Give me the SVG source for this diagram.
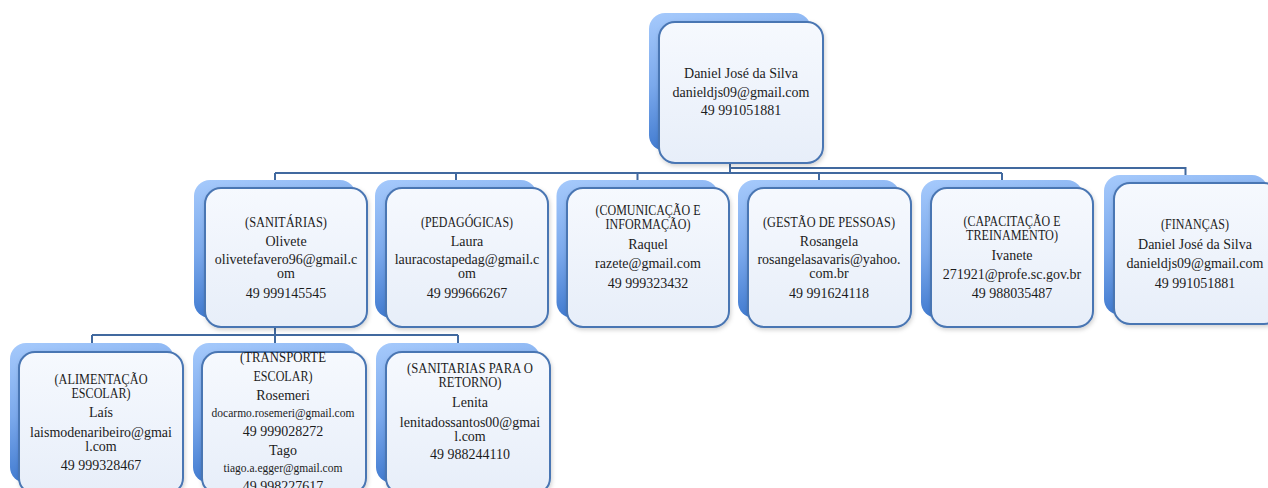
<svg xmlns="http://www.w3.org/2000/svg" width="1268" height="488" viewBox="0 0 1268 488">
<defs>
<linearGradient id="gBack" x1="0" y1="0" x2="0.25" y2="1">
<stop offset="0" stop-color="#a6cafc"/>
<stop offset="0.5" stop-color="#7ba9ec"/>
<stop offset="1" stop-color="#3b76cd"/>
</linearGradient>
<linearGradient id="gFront" x1="0" y1="0" x2="0" y2="1">
<stop offset="0" stop-color="#f6f9fe"/>
<stop offset="1" stop-color="#e7eef9"/>
</linearGradient>
<filter id="sh" x="-10%" y="-10%" width="125%" height="125%">
<feDropShadow dx="1" dy="2" stdDeviation="2" flood-color="#000" flood-opacity="0.18"/>
</filter>
</defs>
<style>
.back{fill:url(#gBack);}
.front{fill:url(#gFront);stroke:#4a76b3;stroke-width:2;filter:url(#sh);}
.conn{fill:none;stroke:#41699f;stroke-width:2;}
text{font-family:"Liberation Serif","DejaVu Serif",serif;font-size:14px;fill:#1c1c1c;text-anchor:middle;}
.sm{font-size:11.5px;}
</style>
<rect width="1268" height="488" fill="#ffffff"/>

<g id="connectors">
<path class="conn" d="M730,150 V173 M275,173 H1002 M275,173 V180 M456,173 V180 M637.5,173 V180 M819,173 V180 M1002,173 V180 M730,168 H1185.5 V175"/>
<path class="conn" d="M275,316 V335 M92,335 H458 M92,335 V343 M458,335 V343 M275,335 V343"/>
</g>

<g id="root">
<rect class="back" x="649" y="13" width="162" height="138" rx="16"/>
<rect class="front" x="659" y="22" width="164" height="141" rx="16"/>
<text x="741" y="78">Daniel José da Silva</text>
<text x="741" y="96.5">danieldjs09@gmail.com</text>
<text x="741" y="115">49 991051881</text>
</g>

<g id="sanitarias">
<rect class="back" x="194" y="180" width="162" height="138" rx="16"/>
<rect class="front" x="205" y="188" width="162" height="139" rx="16"/>
<text x="286" y="227" textLength="82" lengthAdjust="spacingAndGlyphs">(SANITÁRIAS)</text>
<text x="286" y="245.5">Olivete</text>
<text x="286" y="264">olivetefavero96@gmail.c</text>
<text x="286" y="278">om</text>
<text x="286" y="297.5">49 999145545</text>
</g>

<g id="pedagogicas">
<rect class="back" x="375" y="180" width="162" height="138" rx="16"/>
<rect class="front" x="386" y="188" width="162" height="139" rx="16"/>
<text x="467" y="227" textLength="92" lengthAdjust="spacingAndGlyphs">(PEDAGÓGICAS)</text>
<text x="467" y="245.5">Laura</text>
<text x="467" y="264">lauracostapedag@gmail.c</text>
<text x="467" y="278">om</text>
<text x="467" y="297.5">49 999666267</text>
</g>

<g id="comunicacao">
<rect class="back" x="556.5" y="180" width="162" height="138" rx="16"/>
<rect class="front" x="567" y="188" width="162" height="139" rx="16"/>
<text x="648" y="215" textLength="105" lengthAdjust="spacingAndGlyphs">(COMUNICAÇÃO E</text>
<text x="648" y="229" textLength="85" lengthAdjust="spacingAndGlyphs">INFORMAÇÃO)</text>
<text x="648" y="249">Raquel</text>
<text x="648" y="268">razete@gmail.com</text>
<text x="648" y="287.5">49 999323432</text>
</g>

<g id="gestao">
<rect class="back" x="738" y="180" width="162" height="138" rx="16"/>
<rect class="front" x="748" y="188" width="163" height="139" rx="16"/>
<text x="829" y="227" textLength="132" lengthAdjust="spacingAndGlyphs">(GESTÃO DE PESSOAS)</text>
<text x="829" y="245.5">Rosangela</text>
<text x="829" y="264">rosangelasavaris@yahoo.</text>
<text x="829" y="278">com.br</text>
<text x="829" y="297.5">49 991624118</text>
</g>

<g id="capacitacao">
<rect class="back" x="921" y="180" width="162" height="138" rx="16"/>
<rect class="front" x="931" y="188" width="162" height="139" rx="16"/>
<text x="1012" y="226" textLength="97" lengthAdjust="spacingAndGlyphs">(CAPACITAÇÃO E</text>
<text x="1012" y="240" textLength="92" lengthAdjust="spacingAndGlyphs">TREINAMENTO)</text>
<text x="1012" y="259.5">Ivanete</text>
<text x="1012" y="278.5">271921@profe.sc.gov.br</text>
<text x="1012" y="297.5">49 988035487</text>
</g>

<g id="financas">
<rect class="back" x="1104" y="175" width="164" height="140" rx="16"/>
<rect class="front" x="1114" y="183" width="166" height="141" rx="16"/>
<text x="1195" y="229" textLength="68" lengthAdjust="spacingAndGlyphs">(FINANÇAS)</text>
<text x="1195" y="249">Daniel José da Silva</text>
<text x="1195" y="268">danieldjs09@gmail.com</text>
<text x="1195" y="287.5">49 991051881</text>
</g>

<g id="alimentacao">
<rect class="back" x="10" y="343" width="164" height="140" rx="16"/>
<rect class="front" x="19" y="352" width="164" height="142" rx="16"/>
<text x="101" y="384" textLength="93" lengthAdjust="spacingAndGlyphs">(ALIMENTAÇÃO</text>
<text x="101" y="398" textLength="59" lengthAdjust="spacingAndGlyphs">ESCOLAR)</text>
<text x="101" y="417">Laís</text>
<text x="101" y="437">laismodenaribeiro@gmai</text>
<text x="101" y="451">l.com</text>
<text x="101" y="469.5">49 999328467</text>
</g>

<g id="transporte">
<rect class="back" x="193" y="343" width="164" height="140" rx="16"/>
<rect class="front" x="202" y="352" width="164" height="142" rx="16"/>
<text x="283" y="362" textLength="86" lengthAdjust="spacingAndGlyphs">(TRANSPORTE</text>
<text x="283" y="381" textLength="59" lengthAdjust="spacingAndGlyphs">ESCOLAR)</text>
<text x="283" y="400">Rosemeri</text>
<text class="sm" x="283" y="417">docarmo.rosemeri@gmail.com</text>
<text x="283" y="436">49 999028272</text>
<text x="283" y="455">Tago</text>
<text class="sm" x="283" y="472">tiago.a.egger@gmail.com</text>
<text x="283" y="491">49 998227617</text>
</g>

<g id="sanitarias-retorno">
<rect class="back" x="376" y="343" width="164" height="140" rx="16"/>
<rect class="front" x="386" y="352" width="164" height="142" rx="16"/>
<text x="470" y="373" textLength="126" lengthAdjust="spacingAndGlyphs">(SANITARIAS PARA O</text>
<text x="470" y="387" textLength="63" lengthAdjust="spacingAndGlyphs">RETORNO)</text>
<text x="470" y="407">Lenita</text>
<text x="470" y="427">lenitadossantos00@gmai</text>
<text x="470" y="440.5">l.com</text>
<text x="470" y="459">49 988244110</text>
</g>
</svg>
